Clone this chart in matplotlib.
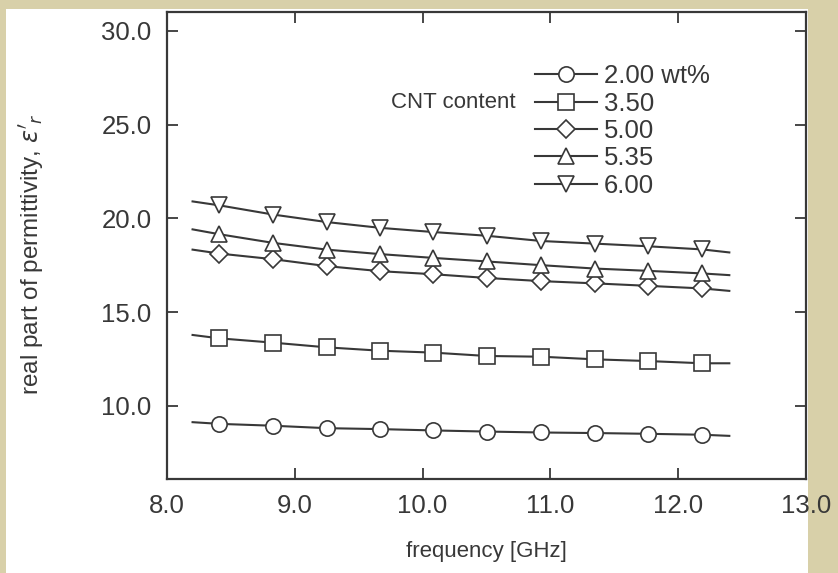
import numpy as np
import matplotlib
matplotlib.use('Agg')
import matplotlib.pyplot as plt
from matplotlib.patches import Rectangle

plt.rcParams['font.family'] = ['Liberation Sans', 'DejaVu Sans']
plt.rcParams['mathtext.fontset'] = 'dejavusans'

# frequency [GHz]: line end points plus the 10 marked points
freq = [8.20, 8.41, 8.83, 9.25, 9.67, 10.08, 10.50, 10.93, 11.35, 11.76, 12.19, 12.40]

eps_200 = [9.13, 9.04, 8.94, 8.81, 8.76, 8.69, 8.63, 8.58, 8.55, 8.51, 8.46, 8.40]
eps_350 = [13.78, 13.60, 13.37, 13.12, 12.94, 12.84, 12.66, 12.62, 12.48, 12.39, 12.27, 12.27]
eps_500 = [18.33, 18.12, 17.82, 17.45, 17.18, 17.02, 16.82, 16.65, 16.53, 16.40, 16.26, 16.13]
eps_535 = [19.41, 19.15, 18.69, 18.33, 18.09, 17.89, 17.70, 17.50, 17.32, 17.20, 17.06, 16.97]
eps_600 = [20.90, 20.69, 20.20, 19.80, 19.49, 19.27, 19.07, 18.79, 18.65, 18.51, 18.34, 18.18]

labels = ['2.00 wt%', '3.50', '5.00', '5.35', '6.00']
markers = ['o', 's', 'D', '^', 'v']
series = [eps_200, eps_350, eps_500, eps_535, eps_600]

ink = '#383838'
beige = '#d8d0a9'

fig = plt.figure(figsize=(8.38, 5.73), dpi=100)
fig.patch.set_facecolor(beige)
# white page area
fig.patches.append(Rectangle((6 / 838, 0), (808 - 6) / 838, (573 - 9) / 573,
                             transform=fig.transFigure, facecolor='white',
                             edgecolor='none', zorder=-10))

ax = fig.add_axes([167 / 838, 1 - 479 / 573, (806 - 167) / 838, (479 - 12) / 573])
ax.set_facecolor('white')

for y, m, lab in zip(series, markers, labels):
    ms = 9 if m == 'D' else 11
    ax.plot(freq, y, color=ink, lw=1.5, marker=m, ms=ms, mfc='white',
            mec=ink, mew=1.2, markevery=slice(1, -1), label=lab)

ax.set_xlim(8.0, 13.0)
ax.set_ylim(6.1, 31.0)
ax.set_xticks([8, 9, 10, 11, 12, 13])
ax.set_yticks([10, 15, 20, 25, 30])
ax.set_xticklabels([f'{v:.1f}' for v in [8, 9, 10, 11, 12, 13]])
ax.set_yticklabels([f'{v:.1f}' for v in [10, 15, 20, 25, 30]])

ax.tick_params(direction='in', length=8, width=1.3, color=ink,
               labelsize=18.5, labelcolor=ink, top=True, right=True, pad=11)
for s in ax.spines.values():
    s.set_color(ink)
    s.set_linewidth(1.6)

ax.set_xlabel('frequency [GHz]', fontsize=16, color=ink, labelpad=16)
ax.set_ylabel("real part of permittivity, $\\varepsilon'_r$", fontsize=17.5,
              color=ink)
ax.yaxis.set_label_coords(-0.19, 0.482)

leg = ax.legend(loc='upper left', bbox_to_anchor=(0.576, 0.888), frameon=False,
                fontsize=18.5, handlelength=2.4, handletextpad=0.27,
                labelspacing=0.13, borderaxespad=0, borderpad=0)
for t in leg.get_texts():
    t.set_color(ink)

ax.text(0.545, 0.807, 'CNT content', transform=ax.transAxes, ha='right',
        va='center', fontsize=16, color=ink)

fig.savefig('out.png', dpi=100, facecolor=fig.get_facecolor())
